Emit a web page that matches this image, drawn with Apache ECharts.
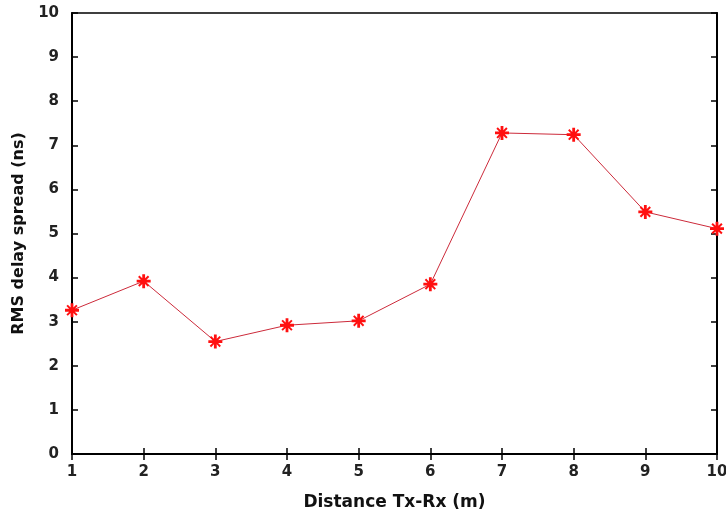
<!DOCTYPE html>
<html>
<head>
<meta charset="utf-8">
<script src="https://cdn.jsdelivr.net/npm/echarts@6/dist/echarts.min.js"></script>
<style>
    html, body { margin: 0; padding: 0; background: #fff; }
    #chart { width: 726px; height: 513px; }
</style>
</head>
<body>
<div id="chart"></div>
<script>
    // distance Tx-Rx (m) and measured RMS delay spread (ns)
    var distances = [1, 2, 3, 4, 5, 6, 7, 8, 9, 10];
    var rmsDelay = [3.26, 3.92, 2.55, 2.92, 3.02, 3.85, 7.28, 7.24, 5.49, 5.11];

    var points = [];
    for (var i = 0; i < distances.length; i++) {
        points.push([distances[i], rmsDelay[i]]);
    }

    // chunky asterisk marker
    var star = 'path://M8,0 L12,0 L12,6 L16,2 L18,4 L14,8 L20,8 L20,12 L14,12 L18,16 L16,18 L12,14 L12,20 L8,20 L8,14 L4,18 L2,16 L6,12 L0,12 L0,8 L6,8 L2,4 L4,2 L8,6 Z';

    var tickFont = {
        fontFamily: 'DejaVu Sans, sans-serif',
        fontWeight: 'bold',
        fontSize: 15,
        color: '#222'
    };
    var titleFont = {
        fontFamily: 'DejaVu Sans, sans-serif',
        fontWeight: 'bold',
        fontSize: 16,
        color: '#111'
    };

    var chart = echarts.init(document.getElementById('chart'));
    chart.setOption({
        animation: false,
        grid: {
            left: 72, right: 9, top: 13, bottom: 59,
            outerBoundsMode: 'none',
            containLabel: false,
            show: true, borderColor: '#000', borderWidth: 1.5
        },
        xAxis: [{
            type: 'value', min: 1, max: 10, interval: 1,
            name: 'Distance Tx-Rx (m)', nameLocation: 'middle', nameGap: 40,
            nameTextStyle: Object.assign({}, titleFont, { fontSize: 17 }),
            axisLine: { lineStyle: { color: '#000', width: 2 } },
            axisTick: { inside: true, length: 6, lineStyle: { color: '#000', width: 1.5 } },
            axisLabel: Object.assign({ margin: 11 }, tickFont),
            splitLine: { show: false }
        }, {
            type: 'value', min: 1, max: 10, interval: 1, position: 'top',
            axisLine: { lineStyle: { color: '#000', width: 2 } },
            axisTick: { inside: true, length: 6, lineStyle: { color: '#000', width: 1.5 } },
            axisLabel: { show: false },
            splitLine: { show: false }
        }],
        yAxis: [{
            type: 'value', min: 0, max: 10, interval: 1,
            name: 'RMS delay spread (ns)', nameLocation: 'middle', nameGap: 41,
            nameTextStyle: titleFont,
            axisLine: { show: true, lineStyle: { color: '#000', width: 2 } },
            axisTick: { show: true, inside: true, length: 6, lineStyle: { color: '#000', width: 1.5 } },
            axisLabel: Object.assign({ margin: 13 }, tickFont),
            splitLine: { show: false }
        }, {
            type: 'value', min: 0, max: 10, interval: 1, position: 'right',
            axisLine: { show: true, lineStyle: { color: '#000', width: 2 } },
            axisTick: { show: true, inside: true, length: 6, lineStyle: { color: '#000', width: 1.5 } },
            axisLabel: { show: false },
            splitLine: { show: false }
        }],
        series: [{
            type: 'line',
            data: points,
            symbol: star,
            symbolSize: 14,
            itemStyle: { color: '#ff1010' },
            lineStyle: { color: '#cc2a3a', width: 1 }
        }]
    });
</script>
</body>
</html>
